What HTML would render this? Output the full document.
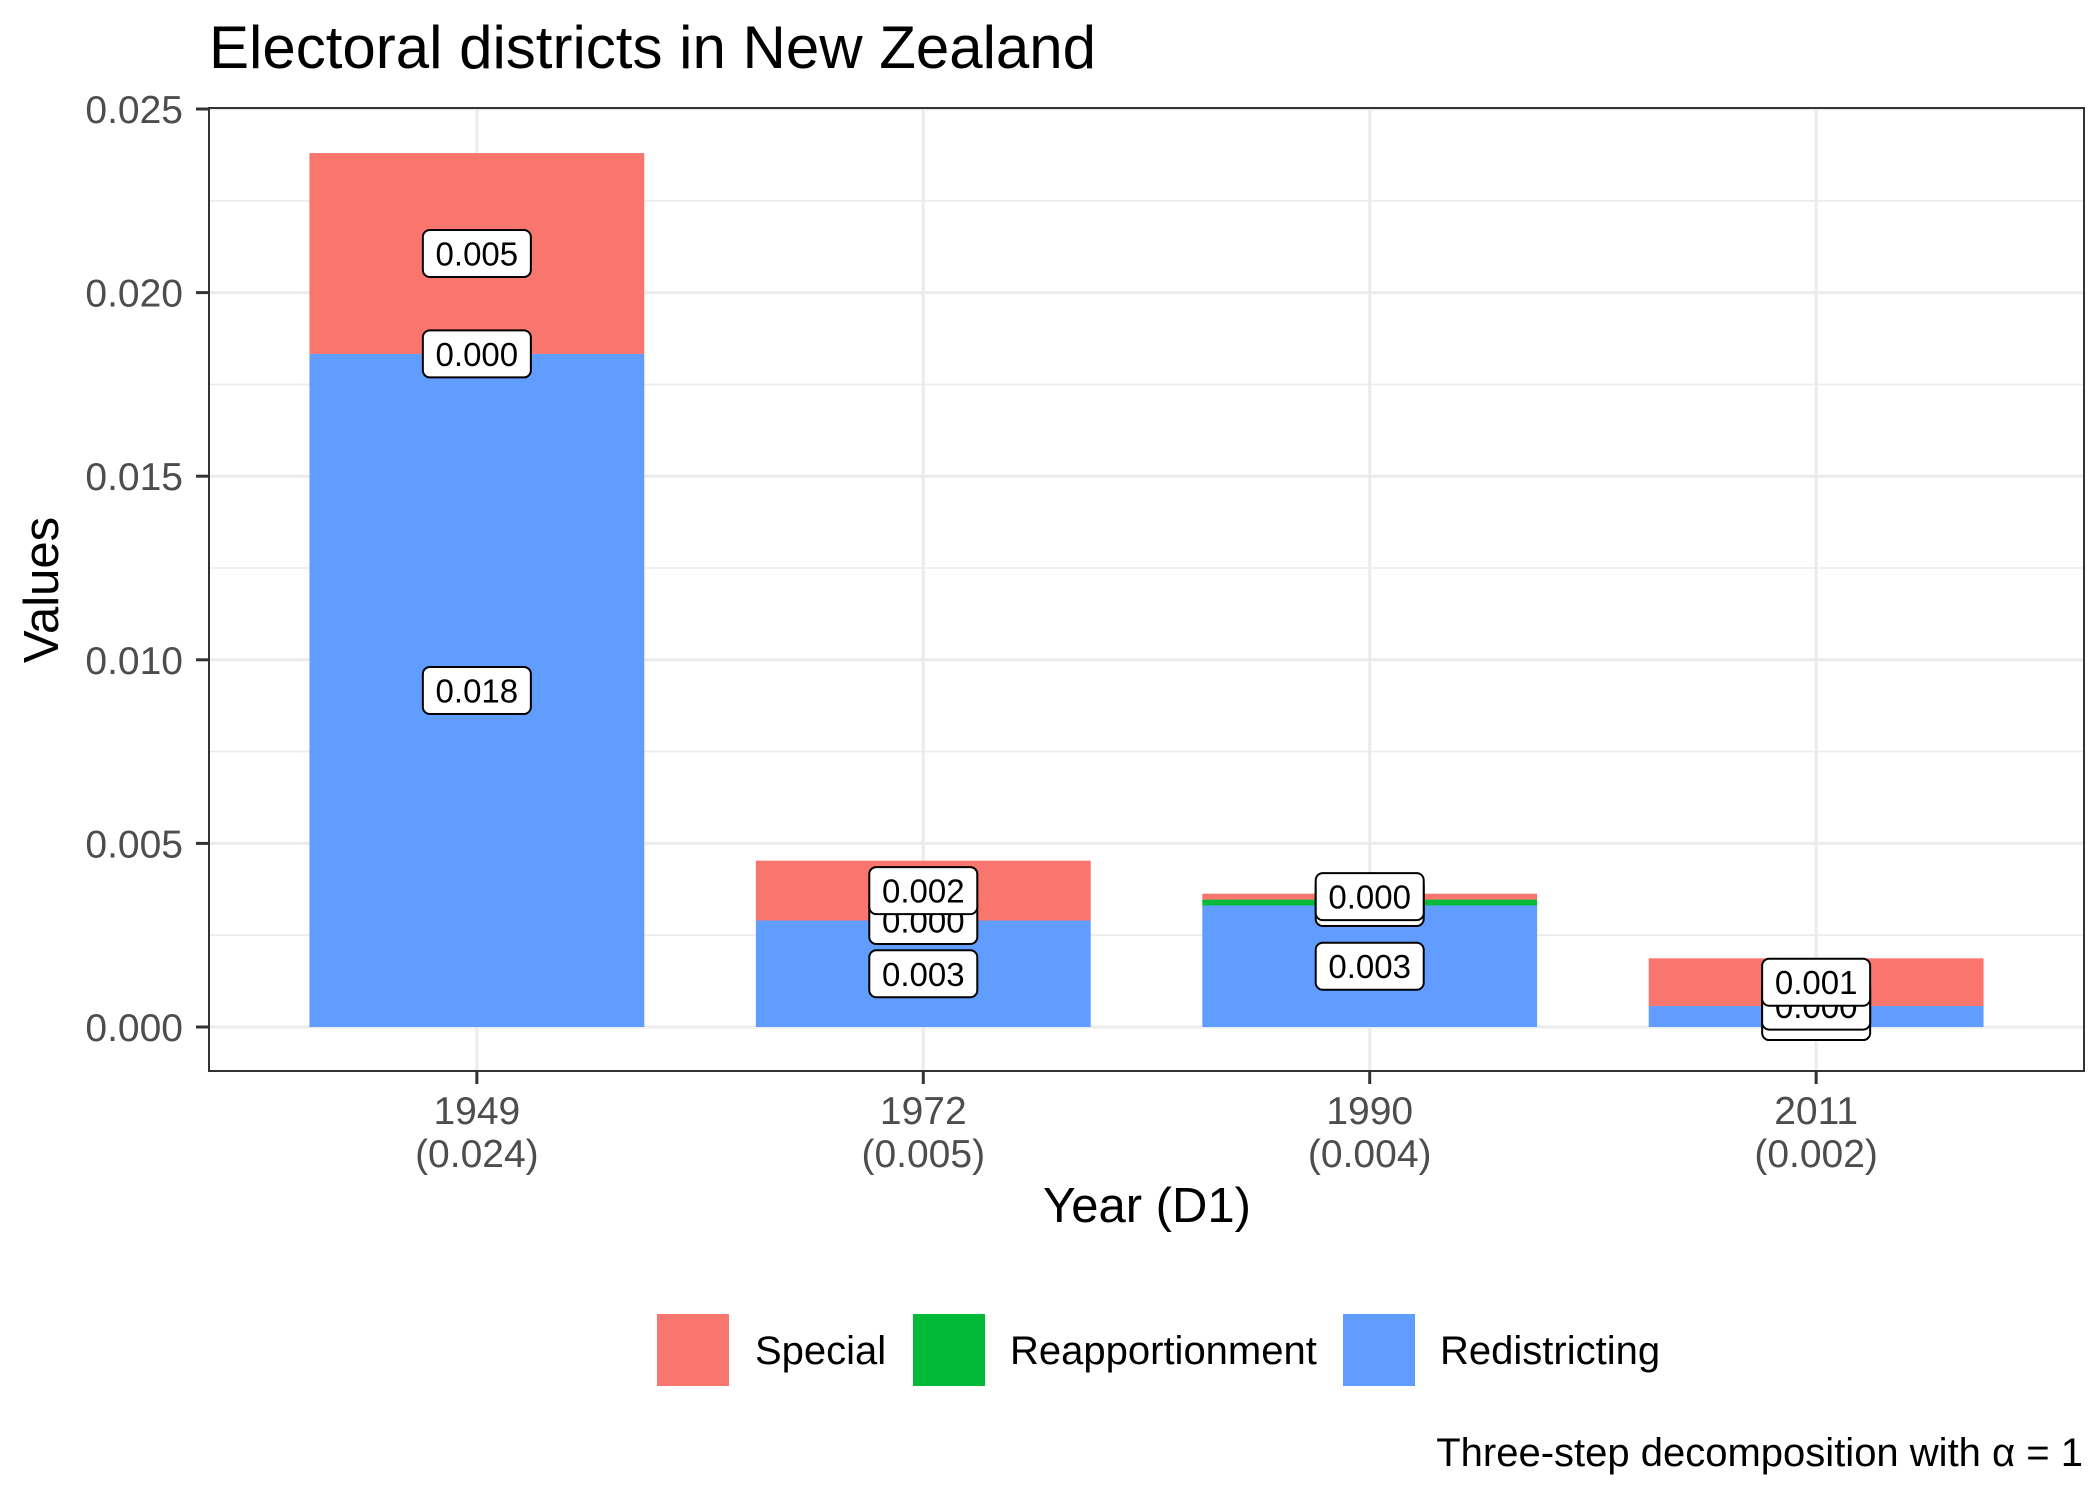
<!DOCTYPE html>
<html><head><meta charset="utf-8"><style>
html,body{margin:0;padding:0;background:#fff;}
svg{display:block;font-family:"Liberation Sans",Arial,sans-serif;}
</style></head><body>
<svg id="chart" width="2100" height="1500" viewBox="0 0 2100 1500">
<rect width="2100" height="1500" fill="#fff"/>
<text x="209" y="68" font-size="60" fill="#000">Electoral districts in New Zealand</text>
<g id="grid"></g>
<g id="bars"></g>
<g id="labels"></g>
<rect x="209" y="108" width="1875" height="963" fill="none" stroke="#333" stroke-width="2"/>
<g id="axes"></g>
<text transform="translate(58,590) rotate(-90)" text-anchor="middle" font-size="49" fill="#000">Values</text>
<text x="1147" y="1222" text-anchor="middle" font-size="49" fill="#000">Year (D1)</text>
<g>
<rect x="657" y="1314" width="72" height="72" fill="#F8766D"/>
<text x="755" y="1364" font-size="40">Special</text>
<rect x="913" y="1314" width="72" height="72" fill="#00BA38"/>
<text x="1010" y="1364" font-size="40">Reapportionment</text>
<rect x="1343" y="1314" width="72" height="72" fill="#619CFF"/>
<text x="1440" y="1364" font-size="40">Redistricting</text>
</g>
<text x="2083" y="1466" text-anchor="end" font-size="40" fill="#000">Three-step decomposition with α = 1</text>
</svg>
<script>
const categories = ["1949","1972","1990","2011"];
const totalLabels = ["(0.024)","(0.005)","(0.004)","(0.002)"];
const redistricting = [0.01833, 0.0029, 0.00331, 0.00057];
const reapportionment = [0.0, 0.0, 0.00016, 0.0];
const special = [0.00547, 0.00163, 0.00016, 0.0013];
const yTicks = [0, 0.005, 0.01, 0.015, 0.02, 0.025];
const yTickLabels = ["0.000","0.005","0.010","0.015","0.020","0.025"];

const NS = "http://www.w3.org/2000/svg";
const panelL = 209, panelR = 2084, panelT = 108, panelB = 1071;
const y0 = 1027, yTop = 109;
function yScale(v){ return y0 - (v / 0.025) * (y0 - yTop); }
const unit = (panelR - panelL) / (categories.length - 1 + 1.2);
function xScale(i){ return panelL + unit * (0.6 + i); }
const barW = unit * 0.75;
function mk(tag, attrs, parent){ const e = document.createElementNS(NS, tag); for (const k in attrs) e.setAttribute(k, attrs[k]); parent.appendChild(e); return e; }

const grid = document.getElementById('grid');
for (let i = 0; i < yTicks.length - 1; i++) {
  const v = (yTicks[i] + yTicks[i+1]) / 2;
  const l = mk('line', {x1: panelL, x2: panelR, y1: yScale(v), y2: yScale(v), stroke: '#EBEBEB', 'stroke-width': 1.6}, grid);
  
  
}
yTicks.forEach(v => {
  const l = mk('line', {x1: panelL, x2: panelR, y1: yScale(v), y2: yScale(v), stroke: '#EBEBEB', 'stroke-width': 3}, grid);
  
  
});
categories.forEach((c, i) => {
  const l = mk('line', {x1: xScale(i), x2: xScale(i), y1: panelT, y2: panelB, stroke: '#EBEBEB', 'stroke-width': 3}, grid);
  
  
});

const bars = document.getElementById('bars');
const labels = document.getElementById('labels');
const series = [
  {name: 'redistricting', vals: redistricting, color: '#619CFF'},
  {name: 'reapportionment', vals: reapportionment, color: '#00BA38'},
  {name: 'special', vals: special, color: '#F8766D'}
];
const labelQueue = [];
categories.forEach((c, i) => {
  let base = 0;
  series.forEach(s => {
    const v = s.vals[i];
    const yA = yScale(base), yB = yScale(base + v);
    const r = mk('rect', {x: xScale(i) - barW/2, y: yB, width: barW, height: Math.max(0, yA - yB), fill: s.color}, bars);
    
    
    labelQueue.push({x: xScale(i), y: yScale(base + v/2), text: v.toFixed(3), name: s.name + '-' + c});
    base += v;
  });
});
labelQueue.forEach(L => {
  const g = mk('g', {}, labels);
  
  
  mk('rect', {x: L.x - 54, y: L.y - 23.5, width: 108, height: 47, rx: 7, fill: '#fff', stroke: '#000', 'stroke-width': 2}, g);
  const t = mk('text', {x: L.x, y: L.y + 12, 'text-anchor': 'middle', 'font-size': 33, fill: '#000'}, g);
  t.textContent = L.text;
});

const axes = document.getElementById('axes');
yTicks.forEach((v, i) => {
  const tk = mk('line', {x1: panelL - 13, x2: panelL, y1: yScale(v), y2: yScale(v), stroke: '#333', 'stroke-width': 3}, axes);
  
  
  const t = mk('text', {x: 183, y: yScale(v) + 14, 'text-anchor': 'end', 'font-size': 39, fill: '#4D4D4D'}, axes);
  
  
  t.textContent = yTickLabels[i];
});
categories.forEach((c, i) => {
  const tk = mk('line', {x1: xScale(i), x2: xScale(i), y1: panelB, y2: panelB + 13, stroke: '#333', 'stroke-width': 3}, axes);
  
  
  const t = mk('text', {x: xScale(i), y: 1124, 'text-anchor': 'middle', 'font-size': 39, fill: '#4D4D4D'}, axes);
  
  
  t.textContent = c;
  const t2 = mk('text', {x: xScale(i), y: 1167, 'text-anchor': 'middle', 'font-size': 39, fill: '#4D4D4D'}, axes);
  
  
  t2.textContent = totalLabels[i];
});
</script>
</body></html>
